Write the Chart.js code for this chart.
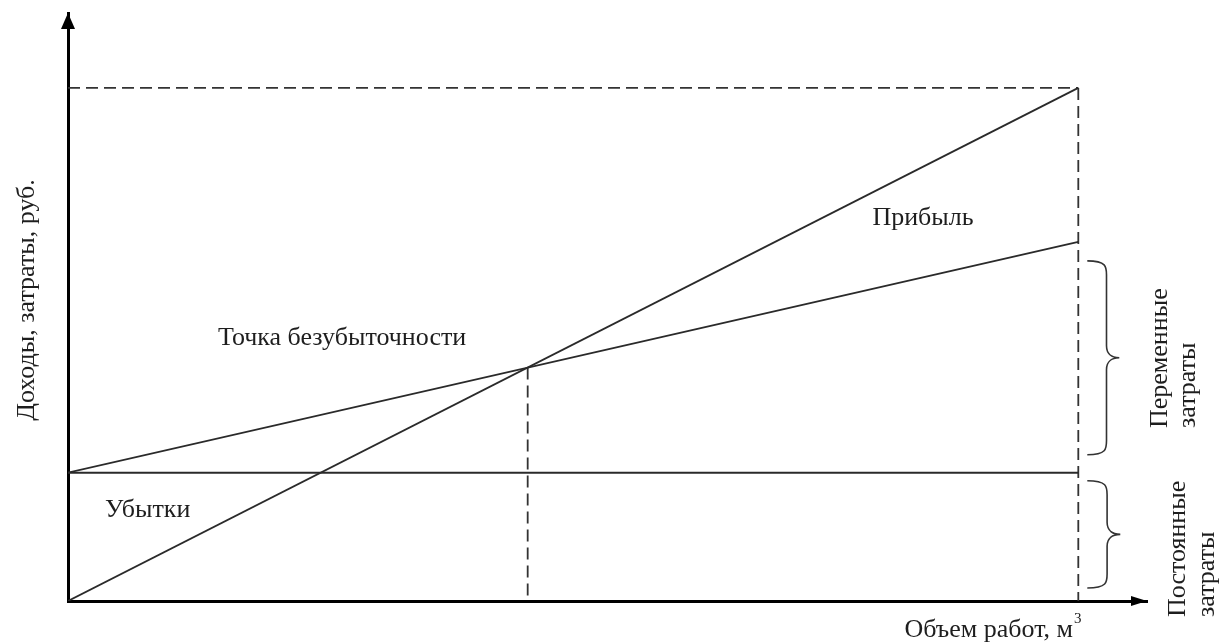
<!DOCTYPE html>
<html>
<head>
<meta charset="utf-8">
<script src="https://cdn.jsdelivr.net/npm/chart.js@4.4.1/dist/chart.umd.min.js"></script>
<style>
  html, body { margin: 0; padding: 0; background: #ffffff; }
  #wrap { width: 1224px; height: 642px; position: relative; }
</style>
</head>
<body>
<div id="wrap"><canvas id="c" width="1224" height="642"></canvas></div>
<script>
// ---- data ----
const volume        = [0, 100];          // объем работ (условные единицы)
const revenue       = [0, 100];          // доходы
const totalCost     = [25, 70];          // полные затраты
const fixedCost     = [25, 25];          // постоянные затраты
const breakEvenX    = [45.5, 45.5];      // точка безубыточности (объем)
const breakEvenY    = [45.5, 0];
const guideTopX     = [0, 100];
const guideTopY     = [100, 100];
const guideRightX   = [100, 100];
const guideRightY   = [100, 0];
const axisMaxX = 106.8;
const axisMaxY = 114.6;

const labels = {
  profit: 'Прибыль',
  breakEven: 'Точка безубыточности',
  loss: 'Убытки',
  yTitle: 'Доходы, затраты, руб.',
  xTitle: 'Объем работ, м',
  xTitleSup: '3',
  variable: ['Переменные', 'затраты'],
  fixed: ['Постоянные', 'затраты']
};

const pts = (xs, ys) => xs.map((x, i) => ({ x: x, y: ys[i] }));
const FONT = '"Liberation Serif", "Times New Roman", serif';
const LINE = '#2a2a2a';

const solid = (data) => ({ data, borderColor: LINE, borderWidth: 1.8, pointRadius: 0, fill: false, tension: 0 });
const dashed = (data) => ({ data, borderColor: '#333', borderWidth: 1.8, borderDash: [12, 6], pointRadius: 0, fill: false, tension: 0 });

const decor = {
  id: 'decor',
  afterDraw(chart) {
    const ctx = chart.ctx;
    const xs = chart.scales.x, ys = chart.scales.y;
    const area = chart.chartArea;
    ctx.save();
    // arrows
    ctx.fillStyle = '#000';
    ctx.beginPath();
    ctx.moveTo(area.left, area.top);
    ctx.lineTo(area.left - 7, area.top + 16);
    ctx.lineTo(area.left + 7, area.top + 16);
    ctx.closePath(); ctx.fill();
    ctx.beginPath();
    ctx.moveTo(area.right, area.bottom);
    ctx.lineTo(area.right - 16, area.bottom - 5);
    ctx.lineTo(area.right - 16, area.bottom + 5);
    ctx.closePath(); ctx.fill();

    // braces
    const brace = (x, y1, y2, w) => {
      const ym = (y1 + y2) / 2;
      ctx.beginPath();
      ctx.moveTo(x, y1);
      ctx.bezierCurveTo(x + w * 0.6, y1, x + w * 0.6, y1 + 6, x + w * 0.6, y1 + 14);
      ctx.lineTo(x + w * 0.6, ym - 12);
      ctx.bezierCurveTo(x + w * 0.6, ym - 3, x + w * 0.8, ym, x + w, ym);
      ctx.bezierCurveTo(x + w * 0.8, ym, x + w * 0.6, ym + 3, x + w * 0.6, ym + 12);
      ctx.lineTo(x + w * 0.6, y2 - 14);
      ctx.bezierCurveTo(x + w * 0.6, y2 - 6, x + w * 0.6, y2, x, y2);
      ctx.strokeStyle = '#333'; ctx.lineWidth = 1.6; ctx.stroke();
    };
    const xEnd = xs.getPixelForValue(volume[1]);
    brace(xEnd + 9, ys.getPixelForValue(totalCost[1]) + 19, ys.getPixelForValue(fixedCost[1]) - 18, 32);
    brace(xEnd + 9, ys.getPixelForValue(fixedCost[1]) + 8, ys.getPixelForValue(0) - 13, 33);

    // texts
    const F = '26px ' + FONT;
    ctx.fillStyle = '#1e1e1e';
    ctx.font = F;
    ctx.textBaseline = 'middle';
    ctx.textAlign = 'center';
    ctx.fillText(labels.profit, 923, 218);
    ctx.textAlign = 'left';
    ctx.fillText(labels.breakEven, 218, 338);
    ctx.fillText(labels.loss, 105, 510);

    // y title
    ctx.save();
    ctx.translate(27, 300); ctx.rotate(-Math.PI / 2);
    ctx.textAlign = 'center';
    ctx.fillText(labels.yTitle, 0, 0);
    ctx.restore();

    // x title
    ctx.textAlign = 'right'; ctx.textBaseline = 'alphabetic';
    ctx.fillText(labels.xTitle, 1073, 637);
    ctx.font = '15px ' + FONT; ctx.textAlign = 'left';
    ctx.fillText(labels.xTitleSup, 1074, 623);

    // right rotated labels
    ctx.font = F;
    const rot = (text, x, yStart) => {
      ctx.save(); ctx.translate(x, yStart); ctx.rotate(-Math.PI / 2);
      ctx.textAlign = 'left'; ctx.textBaseline = 'middle';
      ctx.fillText(text, 0, 0); ctx.restore();
    };
    rot(labels.variable[0], 1160, 428);
    rot(labels.variable[1], 1188, 428);
    rot(labels.fixed[0], 1178, 617);
    rot(labels.fixed[1], 1207, 617);
    ctx.restore();
  }
};

new Chart(document.getElementById('c'), {
  type: 'line',
  data: {
    datasets: [
      solid(pts(volume, revenue)),
      solid(pts(volume, totalCost)),
      solid(pts(volume, fixedCost)),
      dashed(pts(guideTopX, guideTopY)),
      dashed(pts(guideRightX, guideRightY)),
      dashed(pts(breakEvenX, breakEvenY))
    ]
  },
  options: {
    responsive: false,
    animation: false,
    events: [],
    layout: { padding: { left: 68, right: 77, top: 13, bottom: 41 } },
    plugins: { legend: { display: false }, tooltip: { enabled: false } },
    scales: {
      x: {
        type: 'linear', min: 0, max: axisMaxX,
        grid: { display: false, drawTicks: false },
        border: { display: true, color: '#000', width: 3 },
        ticks: { display: false },
        afterFit: (s) => { s.height = 0; }
      },
      y: {
        type: 'linear', min: 0, max: axisMaxY,
        grid: { display: false, drawTicks: false },
        border: { display: true, color: '#000', width: 3 },
        ticks: { display: false },
        afterFit: (s) => { s.width = 0; }
      }
    }
  },
  plugins: [decor]
});
</script>
</body>
</html>
